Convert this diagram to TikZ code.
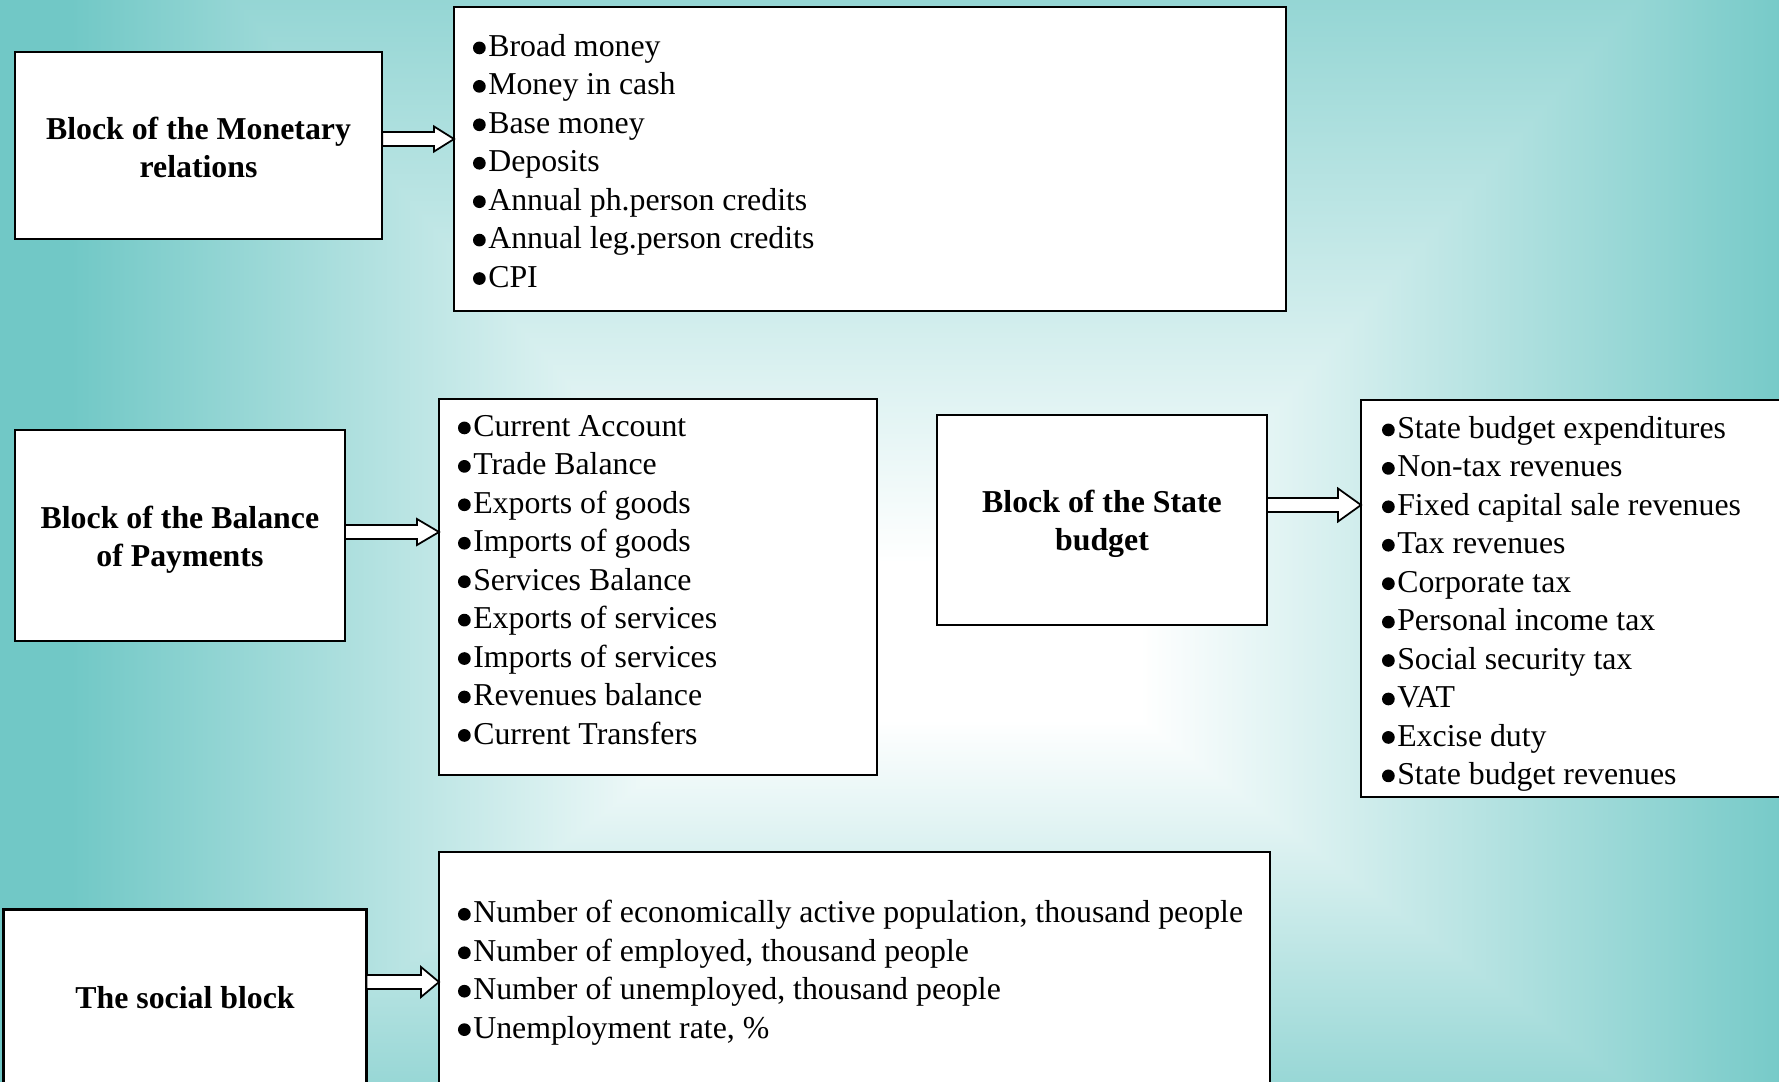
\documentclass[tikz,border=0pt]{standalone}
\usepackage{fontspec}
\setmainfont{Liberation Serif}
\usetikzlibrary{calc}
\definecolor{bgteal}{RGB}{113,200,198}
\pgfdeclareverticalshading{bgtop}{100bp}{color(0bp)=(white); color(25bp)=(white); color(75bp)=(bgteal); color(100bp)=(bgteal)}
\pgfdeclareverticalshading{bgbot}{100bp}{color(0bp)=(bgteal); color(25bp)=(bgteal); color(75bp)=(white); color(100bp)=(white)}
\pgfdeclarehorizontalshading{bghoriz}{100bp}{color(0bp)=(bgteal); color(25bp)=(bgteal); color(43.84bp)=(white); color(55.79bp)=(white); color(75bp)=(bgteal); color(100bp)=(bgteal)}
\newcommand\listfont{\fontsize{9.05}{10.93}\selectfont}
\newcommand\bul{\tikz[baseline=0pt]\fill[black] (0.205em,0.27em) circle[radius=0.2em];\kern0.08em}
\newcommand\blockarrow[5]{%
  \draw[barrow] let \p1=(#1.east), \p2=(#2.west), \p3=(0,#3) in
    (\x1,\y3+0.07cm) -- (\x2-#5,\y3+0.07cm) -- (\x2-#5,\y3+#4) -- (\x2,\y3)
    -- (\x2-#5,\y3-#4) -- (\x2-#5,\y3-0.07cm) -- (\x1,\y3-0.07cm) -- cycle;}
\begin{document}
\begin{tikzpicture}[x=0.01cm, y=-0.01cm,
  box/.style={draw=black, line width=0.6pt, fill=white, inner sep=0pt, outer sep=0pt},
  blocktext/.style={inner sep=0pt, font=\listfont\bfseries, align=center},
  listtext/.style={anchor=north west, inner sep=0pt, outer sep=0pt, align=left, font=\listfont},
  barrow/.style={draw=black, fill=white, line width=0.5pt, line join=miter}]
\useasboundingbox (0,0) rectangle (1779,1081);
% background: rectangular gradient
\begin{scope}
\clip (0,0) rectangle (1779,1081);
\fill[bgteal] (-10,-10) rectangle (1800,1100);
\shade[shading=bghoriz] (71,-200) rectangle (1807,1230);
\shade[shading=bgtop] (725,563) -- (1140,563) -- (1807,-189) -- (71,-189) -- cycle;
\shade[shading=bgbot] (725,720) -- (1140,720) -- (1807,1220) -- (71,1220) -- cycle;
\end{scope}
% boxes
\node[box, minimum width=367.7*0.01cm, minimum height=187.4*0.01cm] (mon) at (198.5,145.7) {};
\node[box, minimum width=831.5*0.01cm, minimum height=304.1*0.01cm] (monlist) at (869.8,158.9) {};
\node[box, minimum width=330.3*0.01cm, minimum height=211*0.01cm] (bop) at (179.9,535.5) {};
\node[box, minimum width=438*0.01cm, minimum height=376*0.01cm] (boplist) at (658,587) {};
\node[box, minimum width=330*0.01cm, minimum height=210*0.01cm] (st) at (1102,520) {};
\node[box, minimum width=429*0.01cm, minimum height=397*0.01cm] (stlist) at (1575.5,598.5) {};
\node[box, minimum width=363*0.01cm, minimum height=175*0.01cm] (soc) at (185,997) {};
\node[box, minimum width=831*0.01cm, minimum height=238*0.01cm] (soclist) at (854.5,971) {};
% block labels
\node[blocktext] (montxt) at ($(mon.center)+(0,2)$) {Block of the Monetary\\relations};
\node[blocktext] (boptxt) at ($(bop.center)+(0,4)$) {Block of the Balance\\of Payments};
\node[blocktext] (sttxt) at ($(st.center)+(0,4)$) {Block of the State\\budget};
\node[blocktext] (soctxt) at ($(soc.center)+(0,1)$) {The social block};
% list texts
\node[listtext] (montext) at (473,29.6) {\strut\bul Broad money\\\bul Money in cash\\\bul Base money\\\bul Deposits\\\bul Annual ph.person credits\\\bul Annual leg.person credits\\\bul CPI};
\node[listtext] (boptext) at (458,409.6) {\strut\bul Current Account\\\bul Trade Balance\\\bul Exports of goods\\\bul Imports of goods\\\bul Services Balance\\\bul Exports of services\\\bul Imports of services\\\bul Revenues balance\\\bul Current Transfers};
\node[listtext] (sttext) at (1382,411.6) {\strut\bul State budget expenditures\\\bul Non-tax revenues\\\bul Fixed capital sale revenues\\\bul Tax revenues\\\bul Corporate tax\\\bul Personal income tax\\\bul Social security tax\\\bul VAT\\\bul Excise duty\\\bul State budget revenues};
\node[listtext] (soctext) at (458,896) {\strut\bul Number of economically active population, thousand people\\\bul Number of employed, thousand people\\\bul Number of unemployed, thousand people\\\bul Unemployment rate, \%};
% arrows
\blockarrow{mon}{monlist}{139}{0.125cm}{0.2cm}
\blockarrow{bop}{boplist}{532}{0.13cm}{0.22cm}
\blockarrow{st}{stlist}{505}{0.165cm}{0.23cm}
\blockarrow{soc}{soclist}{982}{0.15cm}{0.18cm}
\end{tikzpicture}
\end{document}
